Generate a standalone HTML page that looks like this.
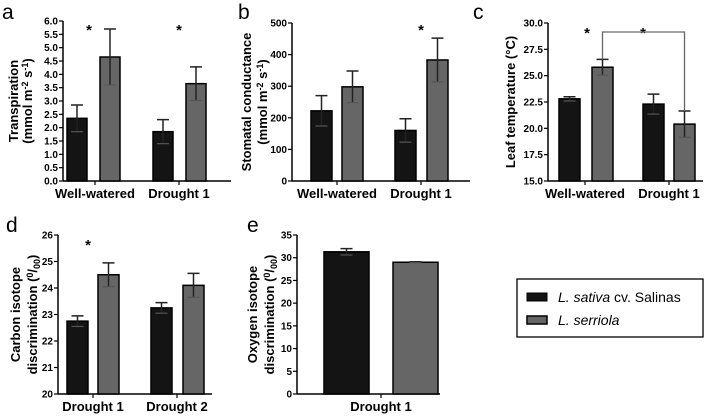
<!DOCTYPE html>
<html><head><meta charset="utf-8"><style>
body{margin:0;background:#fff}
svg{display:block;font-family:"Liberation Sans",Arial,sans-serif}
.tk{font-size:10px;font-weight:bold}
.ti{font-size:13px;font-weight:bold}
.gl{font-size:13px;font-weight:bold}
.pl{font-size:21px}
</style></head><body>
<svg id="fig" width="709" height="416" viewBox="0 0 709 416"></svg>
<script>
const transpMean=[2.35,4.65,1.85,3.65];
const transpErr=[0.5,1.05,0.45,0.63];
const condMean=[222,298,160,383];
const condErr=[48,50,37,69];
const leafMean=[22.8,25.8,22.3,20.4];
const leafErr=[0.2,0.75,0.95,1.25];
const carbonMean=[22.75,24.5,23.25,24.1];
const carbonErr=[0.2,0.45,0.2,0.45];
const oxyMean=[31.3,29.0];
const oxyErr=[0.7,0.1];
const groupsAB=["Well-watered","Drought 1"];
const groupsD=["Drought 1","Drought 2"];
const groupsE=["Drought 1"];
const ticksA=["0.0","0.5","1.0","1.5","2.0","2.5","3.0","3.5","4.0","4.5","5.0","5.5","6.0"];
const ticksB=["0","100","200","300","400","500"];
const ticksC=["15.0","17.5","20.0","22.5","25.0","27.5","30.0"];
const ticksD=["20","21","22","23","24","25","26"];
const ticksE=["0","5","10","15","20","25","30","35"];
const NS="http://www.w3.org/2000/svg";
const svg=document.getElementById('fig');
function mk(t,a,p){const e=document.createElementNS(NS,t);for(const k in a)e.setAttribute(k,a[k]);(p||svg).appendChild(e);return e;}
const fills=["#141414","#666"];
function panel(o){
  const g=mk('g',{});
  
  
  const ys=v=>o.y0-(o.y0-o.y1)*(v-o.vmin)/(o.vmax-o.vmin);
  mk('line',{x1:o.ax,y1:o.y1,x2:o.ax,y2:o.y0,stroke:'#000','stroke-width':1.5},g);
  mk('line',{x1:o.ax,y1:o.y0,x2:o.axEnd,y2:o.y0,stroke:'#000','stroke-width':1.5},g);
  o.ticks.forEach(t=>{const y=ys(parseFloat(t));
    mk('line',{x1:o.ax-4,y1:y,x2:o.ax,y2:y,stroke:'#000','stroke-width':1.2},g);
    const tx=mk('text',{x:o.ax-5,y:y+3.5,'text-anchor':'end',class:'tk'},g);tx.textContent=t;
    });
  o.mean.forEach((m,i)=>{const x=o.bx[i],w=o.bw;const yt=ys(m);
    const r=mk('rect',{x:x,y:yt,width:w,height:o.y0-yt,fill:fills[i%2],stroke:'#000','stroke-width':1.5},g);
    
    const cx=x+w/2,eh=ys(m+o.err[i]),el=ys(m-o.err[i]);
    const eb=mk('path',{d:`M${cx-6},${eh}H${cx+6}M${cx},${eh}V${el}`,stroke:'#222','stroke-width':1.5,fill:'none'},g);
    
    mk('line',{x1:cx-6,y1:el,x2:cx+6,y2:el,stroke:'#555','stroke-width':1.2},g);
  });
  o.groups.forEach((gname,j)=>{const cx=o.gx[j];
    mk('line',{x1:cx,y1:o.y0,x2:cx,y2:o.y0+4,stroke:'#000','stroke-width':1.2},g);
    const t=mk('text',{x:cx,y:o.y0+17,'text-anchor':'middle',class:'gl'},g);t.textContent=gname;
    });
  o.titles.forEach((tt,k)=>{const t=mk('text',{x:0,y:0,'text-anchor':'middle',class:'ti',transform:`translate(${o.tx[k]},${(o.y0+o.y1)/2}) rotate(-90)`},g);t.innerHTML=tt;
    });
  const l=mk('text',{x:o.lx,y:o.ly,class:'pl'},g);l.textContent=o.letter;
  
  (o.stars||[]).forEach(s=>{const t=mk('text',{x:s[0],y:s[1],'text-anchor':'middle',style:'font-size:15px;font-weight:bold'},g);t.textContent='*';
    });
  return ys;
}
panel({name:'panel-a',letter:'a',lx:2,ly:19,ax:63,axEnd:231,y0:181,y1:21,vmin:0,vmax:6,ticks:ticksA,mean:transpMean,err:transpErr,
  bx:[67,100,153,186],bw:20,groups:groupsAB,gx:[95,179],titles:['Transpiration','(mmol m<tspan dy="-4" font-size="9">-2</tspan><tspan dy="4"> s</tspan><tspan dy="-4" font-size="9">-1</tspan><tspan dy="4">)</tspan>'],tx:[18,32],stars:[[89,35],[179,35]]});
panel({name:'panel-b',letter:'b',lx:238,ly:19,ax:292,axEnd:470,y0:181,y1:23,vmin:0,vmax:500,ticks:ticksB,mean:condMean,err:condErr,
  bx:[311,342,395,427],bw:21,groups:groupsAB,gx:[337,421],titles:['Stomatal conductance','(mmol m<tspan dy="-4" font-size="9">-2</tspan><tspan dy="4"> s</tspan><tspan dy="-4" font-size="9">-1</tspan><tspan dy="4">)</tspan>'],tx:[251,267],stars:[[421,35]]});
const ysc=panel({name:'panel-c',letter:'c',lx:473,ly:19,ax:548,axEnd:703,y0:181,y1:23,vmin:15,vmax:30,ticks:ticksC,mean:leafMean,err:leafErr,
  bx:[559,592,643,674],bw:21,groups:groupsAB,gx:[585,669],titles:['Leaf temperature (°C)'],tx:[515],stars:[[587,38],[643,38]]});
{const x1=602.5,x2=684.5,yb=32;
 const br=mk('path',{d:`M${x1},${ysc(leafMean[1]+leafErr[1])}V${yb}H${x2}V${ysc(leafMean[3]+leafErr[3])}`,stroke:'#666','stroke-width':1.3,fill:'none'});
 }
panel({name:'panel-d',letter:'d',lx:6,ly:232,ax:58,axEnd:212,y0:394,y1:235,vmin:20,vmax:26,ticks:ticksD,mean:carbonMean,err:carbonErr,
  bx:[67,98,151,183],bw:21,groups:groupsD,gx:[93,177],titles:['Carbon isotope','discrimination (<tspan dy="-4" font-size="9">0</tspan><tspan dy="4">/</tspan><tspan dy="3" font-size="9">00</tspan><tspan dy="-3">)</tspan>'],tx:[20,37],stars:[[88,250]]});
panel({name:'panel-e',letter:'e',lx:247,ly:232,ax:297,axEnd:440,y0:394,y1:235,vmin:0,vmax:35,ticks:ticksE,mean:oxyMean,err:oxyErr,
  bx:[324,393],bw:45,groups:groupsE,gx:[381],titles:['Oxygen isotope','discrimination (<tspan dy="-4" font-size="9">0</tspan><tspan dy="4">/</tspan><tspan dy="3" font-size="9">00</tspan><tspan dy="-3">)</tspan>'],tx:[257,274]});
const lg=mk('g',{});

mk('rect',{x:517,y:279,width:186,height:58,fill:'#fff',stroke:'#000','stroke-width':1.3},lg);
mk('rect',{x:527,y:293,width:20,height:8,fill:fills[0],stroke:'#000'},lg);
mk('rect',{x:527,y:316,width:20,height:8,fill:fills[1],stroke:'#000','stroke-width':1.5},lg);
const t1=mk('text',{x:558,y:302,style:'font-size:14px'},lg);t1.innerHTML='<tspan font-style="italic">L. sativa</tspan> cv. Salinas';

const t2=mk('text',{x:558,y:325,style:'font-size:14px;font-style:italic'},lg);t2.textContent='L. serriola';

</script>
</body></html>
